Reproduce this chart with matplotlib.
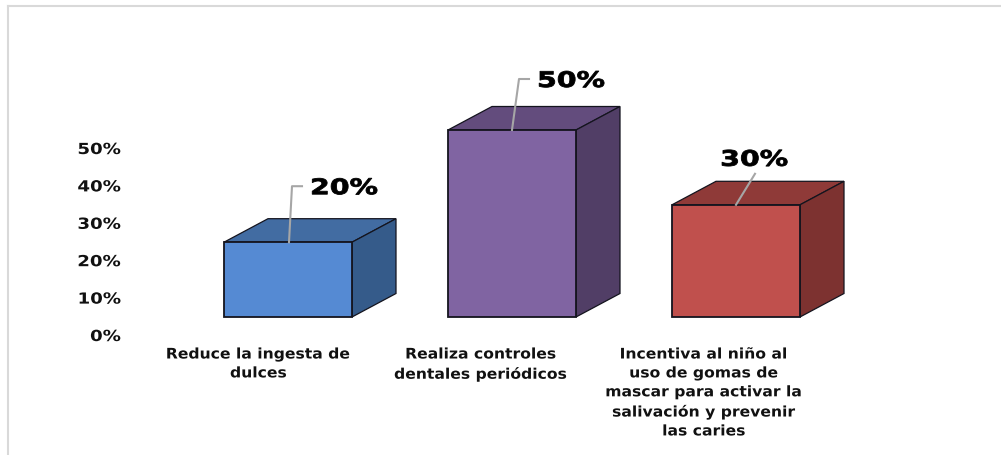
import matplotlib
matplotlib.use("Agg")
import matplotlib.pyplot as plt
from matplotlib.patches import Polygon, Rectangle
from matplotlib.patheffects import AbstractPathEffect
from matplotlib.transforms import Affine2D

categories = ["Reduce la ingesta de\ndulces",
              "Realiza controles\ndentales periódicos",
              "Incentiva al niño al\nuso de gomas de\nmascar para activar la\nsalivación y prevenir\nlas caries"]
values = [20, 50, 30]
yticks = [0, 10, 20, 30, 40, 50]
value_labels = ["20%", "50%", "30%"]
front_colors = ["#558ad3", "#8064a2", "#c0504d"]
top_colors = ["#426ca2", "#634c7d", "#8f3a38"]
side_colors = ["#355b8a", "#513e66", "#7d3230"]

W, H = 1001, 455
PX = 224.0        # pixels per category
PY = 3.74         # pixels per percent
DX, DY = 44 / PX, 23.5 / PY   # depth of the 3-D box in data units
BW = 128 / PX
EDGE = "#14141e"


class Stretch(AbstractPathEffect):
    """Widen a text's glyphs about its own anchor point (the reference is a stretched picture)."""

    def __init__(self, text, sx, bold=0.0):
        super().__init__()
        self.text = text
        self.sx = sx
        self.bold = bold

    def draw_path(self, renderer, gc, tpath, affine, rgbFace=None):
        cx = self.text.get_transform().transform(self.text.get_position())[0]
        new = affine + Affine2D().translate(-cx, 0).scale(self.sx, 1).translate(cx, 0)
        if self.bold:
            gc0 = renderer.new_gc()
            gc0.copy_properties(gc)
            gc0.set_linewidth(self.bold)
            gc0.set_foreground(rgbFace)
            renderer.draw_path(gc0, tpath, new, rgbFace)
            gc0.restore()
        else:
            renderer.draw_path(gc, tpath, new, rgbFace)


def stretch(text, sx, bold=0.0):
    text.set_path_effects([Stretch(text, sx, bold)])


fig = plt.figure(figsize=(W / 100, H / 100), dpi=100, facecolor="white")
plt.rcParams["font.family"] = "DejaVu Sans"

# main axes: baseline at y=317 px, first category centre at x=288 px
left = 288 - 0.5 * PX
ax = fig.add_axes([left / W, (H - 317) / H, 3 * PX / W, 50 * PY / H])
ax.set_xlim(-0.5, 2.5)
ax.set_ylim(0, 50)
ax.axis("off")

for i, v in enumerate(values):
    x0, x1 = i - BW / 2, i + BW / 2
    ax.add_patch(Polygon([(x0, v), (x1, v), (x1 + DX, v + DY), (x0 + DX, v + DY)],
                         fc=top_colors[i], ec=EDGE, lw=0.9, clip_on=False, zorder=2))
    ax.add_patch(Polygon([(x1, 0), (x1 + DX, DY), (x1 + DX, v + DY), (x1, v)],
                         fc=side_colors[i], ec=EDGE, lw=0.9, clip_on=False, zorder=2))
    ax.add_patch(Rectangle((x0, 0), BW, v, fc=front_colors[i], ec=EDGE, lw=1.3,
                           clip_on=False, zorder=3))

# leader lines and value labels, offsets in pixels from the bar's top centre
leaders = [[(1, 0), (4, 56), (14, 56)],
           [(0, 0), (7, 51), (17, 51)],
           [(0, 0), (19, 31)]]
label_pos = [(22, 54), (25, 49), (18, 45)]
label_ha = ["left", "left", "center"]
for i, v in enumerate(values):
    xs = [i + p[0] / PX for p in leaders[i]]
    ys = [v + p[1] / PY for p in leaders[i]]
    ax.plot(xs, ys, color="#a6a6a6", lw=1.5, clip_on=False, zorder=4)
    t = ax.text(i + label_pos[i][0] / PX, v + label_pos[i][1] / PY, value_labels[i],
                fontsize=15.5, fontweight="bold", color="black", ha=label_ha[i],
                va="center", clip_on=False, zorder=5)
    stretch(t, 1.32, bold=0.6)

# category labels
cat_offset = [-29.5, -31, -32]
for i, c in enumerate(categories):
    t = ax.text(i + cat_offset[i] / PX, -29.5 / PY, c, ha="center", va="top",
                fontsize=10.5, fontweight="bold", color="#111111",
                linespacing=1.325, clip_on=False)
    stretch(t, 1.07)

# value axis, drawn lower than the bars by the 3-D offset
axy = fig.add_axes([125 / W, (H - 335) / H, 1 / W, 50 * PY / H])
axy.set_ylim(0, 50)
axy.set_xticks([])
axy.set_yticks(yticks)
axy.set_yticklabels([f"{t}%" for t in yticks], fontsize=11, fontweight="bold", color="#111111")
axy.tick_params(axis="y", length=0, pad=3)
for lab in axy.get_yticklabels():
    stretch(lab, 1.19)
for s in axy.spines.values():
    s.set_visible(False)
axy.patch.set_visible(False)

# picture frame
fig.add_artist(plt.Line2D([8 / W, 8 / W], [0, 1 - 6 / H], color="#d9d9d9", lw=1.5,
                          transform=fig.transFigure))
fig.add_artist(plt.Line2D([8 / W, 1], [1 - 6 / H, 1 - 6 / H], color="#d9d9d9", lw=1.5,
                          transform=fig.transFigure))

fig.savefig("out.png", dpi=100)
